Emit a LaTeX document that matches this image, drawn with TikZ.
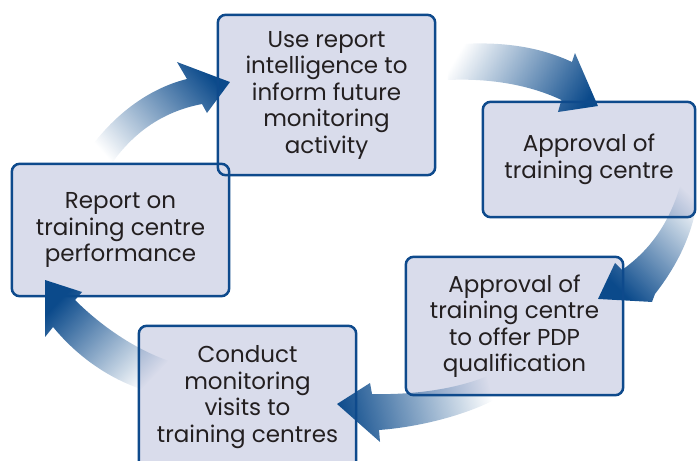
\documentclass[tikz,border=0pt]{standalone}
\usepackage{fontspec}
\setmainfont{Poppins}
\usetikzlibrary{fadings}
\definecolor{boxblue}{HTML}{0E4A8C}
\definecolor{boxfill}{HTML}{D9DCEB}
\definecolor{arrowblue}{HTML}{0B4A8B}
\definecolor{txtcol}{HTML}{231F20}
\tikzfading[name=arrowfade, left color=transparent!100, middle color=transparent!45, right color=transparent!0]
\tikzset{
  boxbg/.style={fill=boxfill, inner sep=0pt, align=center, text=txtcol,
    font=\fontsize{23}{26.5}\selectfont, rounded corners=8pt},
  boxline/.style={draw=boxblue, line width=2.5pt, rounded corners=8pt},
  cyclearrow/.style={fill=arrowblue, path fading=arrowfade, fading angle=#1}
}
\begin{document}
\begin{tikzpicture}[x=1pt,y=-1pt]
\useasboundingbox (0,0) rectangle (697,461);
\clip (0,0) rectangle (697,461);
% box fills and texts
\node[boxbg, minimum width=217pt, minimum height=160pt] (use) at (326.5,95)
  {Use report\\intelligence to\\inform future\\monitoring\\activity};
\node[boxbg, minimum width=212pt, minimum height=115pt] (appr) at (589,159.5)
  {Approval of\\training centre};
\node[boxbg, minimum width=217pt, minimum height=138pt] (pdp) at (514.5,326)
  {Approval of\\training centre\\to offer PDP\\qualification};
\node[boxbg, minimum width=217pt, minimum height=142pt] (cond) at (247.5,397)
  {Conduct\\monitoring\\visits to\\training centres};
\node[boxbg, minimum width=217pt, minimum height=132pt] (rep) at (120.5,230)
  {Report on\\training centre\\performance};
% arrows
\fill[cyclearrow=31] (80,163) .. controls (110,115) and (150,88) .. (187,79)
  -- (177,62) -- (230,82) -- (207,113) -- (202,104)
  .. controls (160,112) and (132,135) .. (112,163) -- cycle;
\fill[cyclearrow=-16] (448,45) .. controls (500,40) and (540,47) .. (572,62)
  -- (575,53) -- (598,106) -- (558,112) -- (561.5,100)
  .. controls (530,85) and (490,78) .. (448,80) -- cycle;
\fill[cyclearrow=232] (700,172) .. controls (699,220) and (683,258) .. (655,294)
  -- (652,302) -- (598,299) -- (615,263) -- (622,270)
  .. controls (650,250) and (672,222) .. (684,172) -- cycle;
\fill[cyclearrow=186] (490,375) .. controls (455,390) and (410,395) .. (372,394)
  -- (370,383) -- (337,404) -- (380,442) -- (379,430)
  .. controls (420,427) and (465,415) .. (494,400) -- cycle;
% box borders
\draw[boxline] (use.south west) rectangle (use.north east);
\draw[boxline] (appr.south west) rectangle (appr.north east);
\draw[boxline] (pdp.south west) rectangle (pdp.north east);
\draw[boxline] (cond.south west) rectangle (cond.north east);
\draw[boxline] (rep.south west) rectangle (rep.north east);
\fill[cyclearrow=140] (172,362) .. controls (135,350) and (100,325) .. (75,300)
  -- (82,292) -- (45,280) -- (45,337) -- (53,327)
  .. controls (80,360) and (115,382) .. (150,392) -- cycle;
\end{tikzpicture}
\end{document}
